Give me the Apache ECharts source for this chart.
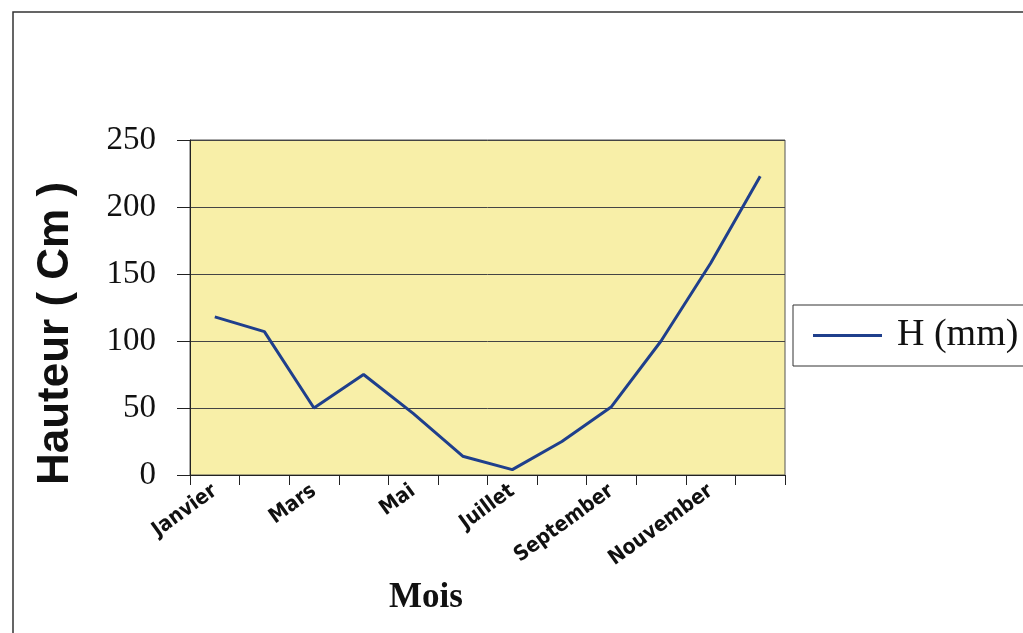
<!DOCTYPE html>
<html>
<head>
<meta charset="utf-8">
<script src="https://cdn.jsdelivr.net/npm/echarts@6/dist/echarts.min.js"></script>
<style>html,body{margin:0;padding:0;background:#fff;}#c{width:1023px;height:633px;}</style>
</head>
<body>
<div id="c"></div>
<script>
const months = ['Janvier','Février','Mars','Avril','Mai','Juin','Juillet','Août','September','Octobre','Nouvember','Décembre'];
const hauteur = [118, 107, 50, 75, 46, 14, 4, 25, 51, 100, 158, 223];
const seriesName = 'H (mm)';
const yTicks = { min: 0, max: 250, interval: 50 };
const yTitle = 'Hauteur ( Cm )';
const xTitle = 'Mois';

const chart = echarts.init(document.getElementById('c'), null, { renderer: 'canvas' });
chart.setOption({
  backgroundColor: '#ffffff',
  animation: false,
  graphic: [
    { type: 'rect', z: -10, shape: { x: 13, y: 12, width: 1300, height: 900 },
      style: { fill: 'none', stroke: '#333', lineWidth: 1.5 } },
    { type: 'text', x: 34, y: 485, rotation: Math.PI / 2,
      style: { text: yTitle, fill: '#111', font: 'bold 44px "Liberation Sans", Arial, sans-serif' } },
    { type: 'text', x: 389, y: 580,
      style: { text: xTitle, fill: '#111', font: 'bold 35px "Liberation Serif", "Times New Roman", serif' } }
  ],
  grid: {
    left: 190, right: 238, top: 140, bottom: 158,
    show: true, backgroundColor: '#F8EFA8', borderColor: '#555', borderWidth: 1
  },
  legend: {
    left: 793, top: 305,
    orient: 'horizontal',
    data: [seriesName],
    icon: 'rect',
    itemWidth: 69, itemHeight: 3,
    itemStyle: { color: '#1F3F8C' },
    padding: [11, 10, 11, 20],
    borderColor: '#333', borderWidth: 1, borderRadius: 0,
    backgroundColor: '#fff',
    textStyle: { fontFamily: '"Liberation Serif", "Times New Roman", serif', fontSize: 38, color: '#111', padding: [0, 0, 0, 10], lineHeight: 39 }
  },
  xAxis: {
    type: 'category',
    data: months,
    boundaryGap: true,
    axisLine: { lineStyle: { color: '#222', width: 1 } },
    axisTick: { show: true, interval: 0, length: 10, lineStyle: { color: '#222' } },
    axisLabel: {
      interval: 1, rotate: 36, margin: 14,
      fontFamily: '"Liberation Sans Narrow", "DejaVu Sans Condensed", "Arial Narrow", sans-serif',
      fontWeight: 'bold', fontSize: 21, color: '#111'
    },
    splitLine: { show: false }
  },
  yAxis: {
    type: 'value',
    min: yTicks.min, max: yTicks.max, interval: yTicks.interval,
    axisLine: { show: true, lineStyle: { color: '#222', width: 1 } },
    axisTick: { show: true, length: 13, inside: false, lineStyle: { color: '#222' } },
    axisLabel: {
      margin: 34, fontFamily: '"Liberation Serif", "Times New Roman", serif', fontSize: 33, color: '#111'
    },
    splitLine: { show: true, lineStyle: { color: '#444', width: 1 } }
  },
  series: [{
    name: seriesName,
    type: 'line',
    data: hauteur,
    symbol: 'none',
    showSymbol: false,
    lineStyle: { color: '#1F3F8C', width: 3 },
    itemStyle: { color: '#1F3F8C' }
  }]
});
</script>
</body>
</html>
